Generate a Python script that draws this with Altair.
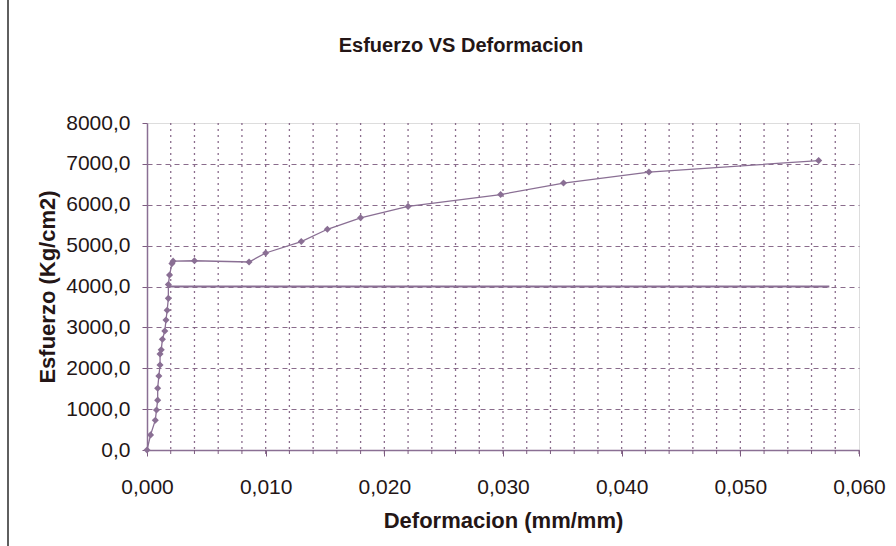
import altair as alt
import pandas as pd

# Curve data
deformacion = [0.0, 0.0003, 0.0007, 0.0008, 0.0009, 0.0009, 0.0010, 0.0011, 0.0011,
               0.0012, 0.0013, 0.0015, 0.0016, 0.0017, 0.0018, 0.0018, 0.0019, 0.0021,
               0.0022, 0.0040, 0.0086, 0.0100, 0.0130, 0.0152, 0.0180, 0.0220, 0.0298,
               0.0351, 0.0423, 0.0566]
esfuerzo = [0, 370, 730, 980, 1220, 1510, 1810, 2080, 2350,
            2450, 2710, 2910, 3180, 3420, 3710, 4050, 4280, 4560,
            4620, 4630, 4600, 4820, 5100, 5400, 5680, 5960, 6250,
            6530, 6800, 7080]

# Horizontal reference line at 4000
ref_x = [0.0018, 0.0575]
ref_y = [4000, 4000]

x_major = [0.0, 0.01, 0.02, 0.03, 0.04, 0.05, 0.06]
x_minor = [round(i * 0.002, 3) for i in range(1, 31)]
x_grid = [round(i * 0.002, 3) for i in range(1, 30)]
y_ticks = [0, 1000, 2000, 3000, 4000, 5000, 6000, 7000, 8000]

df = pd.DataFrame({"x": deformacion, "y": esfuerzo, "order": list(range(len(deformacion)))})
ref = pd.DataFrame({"x": ref_x, "y": ref_y})
grid_df = pd.DataFrame({"x": x_grid})
minor_df = pd.DataFrame({"x": x_minor})

PURPLE = "#8a6f94"
GRID = "#7d5c80"
FONT = "Liberation Sans"
TXT = "#241616"

x_scale = alt.Scale(domain=[0, 0.06], nice=False, zero=True)
y_scale = alt.Scale(domain=[0, 8000], nice=False)

x_axis = alt.Axis(
    values=x_major,
    labelExpr="replace(format(datum.value, '.3f'), '.', ',')",
    grid=False,
    tickSize=6, tickColor=GRID, domainColor=PURPLE, domainWidth=1.5,
    labelFont=FONT, labelFontSize=21, labelColor=TXT, labelPadding=20,
    labelOverlap=False, labelFlush=False,
    title="Deformacion (mm/mm)", titleFont=FONT, titleFontSize=22, titleFontWeight="bold",
    titleColor=TXT, titleY=70, titleBaseline="middle",
)
y_axis = alt.Axis(
    values=y_ticks,
    labelExpr="replace(format(datum.value, '.1f'), '.', ',')",
    grid=True, gridDash=[5, 4], gridColor=GRID, gridWidth=1.2,
    gridOpacity={"condition": {"test": "datum.value < 1 || datum.value > 7999", "value": 0}, "value": 0.9},
    tickSize=5, tickColor=GRID, domainColor=PURPLE, domainWidth=1.5,
    labelFont=FONT, labelFontSize=21, labelColor=TXT, labelPadding=12,
    title="Esfuerzo (Kg/cm2)", titleFont=FONT, titleFontSize=22, titleFontWeight="bold",
    titleColor=TXT, titlePadding=6,
)

vgrid = alt.Chart(grid_df).mark_rule(color=GRID, strokeDash=[2, 4], strokeWidth=1.3, opacity=0.9).encode(
    x=alt.X("x:Q", scale=x_scale, axis=x_axis),
)
minor_ticks = alt.Chart(minor_df).mark_rule(color=GRID, strokeWidth=1).encode(
    x=alt.X("x:Q", scale=x_scale),
    y=alt.value(327), y2=alt.value(331),
)
ref_line = alt.Chart(ref).mark_line(color=PURPLE, strokeWidth=2.2).encode(
    x=alt.X("x:Q", scale=x_scale),
    y=alt.Y("y:Q", scale=y_scale, axis=y_axis),
)
base = alt.Chart(df)
line = base.mark_line(color=PURPLE, strokeWidth=1.3).encode(
    x=alt.X("x:Q", scale=x_scale),
    y=alt.Y("y:Q", scale=y_scale),
    order="order:Q",
)
points = base.mark_point(shape="diamond", filled=True, size=50, color=PURPLE, opacity=1).encode(
    x=alt.X("x:Q", scale=x_scale),
    y=alt.Y("y:Q", scale=y_scale),
)
border = alt.Chart(ref).mark_rule(color="#555555", strokeWidth=1.5, clip=False).encode(
    x=alt.value(-139), y=alt.value(-123), y2=alt.value(423),
)

chart = alt.layer(vgrid, minor_ticks, ref_line, line, points, border).properties(
    width=712, height=327,
    title=alt.TitleParams("Esfuerzo VS Deformacion", font=FONT, fontSize=20, fontWeight="bold",
                          color=TXT, offset=-57, dx=-42, anchor="middle"),
    autosize=alt.AutoSizeParams(type="none"),
    padding={"left": 147, "top": 123, "right": 37, "bottom": 96},
).configure_view(stroke=None).configure(background="white")

chart.save("out.html", embed_options={"renderer": "svg", "actions": False})
